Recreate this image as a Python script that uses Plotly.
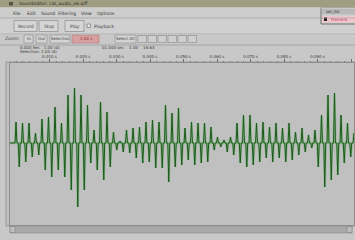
import plotly.graph_objects as go

# ---------------- data ----------------
pulse_period_ms = 1.94          # spacing between successive pulses
pos_peaks = [21, 20, 20, 10, 24, 26, 36, 20, 48, 55, 48, 38, 13, 41, 31, 11, 2,
             13, 15, 16, 21, 23, 21, 38, 30, 35, 15, 21, 20, 20, 16, 6, 3, 6,
             20, 28, 28, 20, 21, 16, 20, 15, 20, 11, 15, 8, 13, 28, 48, 50, 28, 20, 10]
neg_peaks = [24, 19, 14, 12, 27, 34, 27, 34, 47, 64, 47, 20, 27, 37, 24, 7, 9,
             10, 15, 20, 19, 25, 25, 39, 24, 22, 17, 22, 20, 19, 7, 4, 9, 12,
             20, 24, 22, 19, 15, 19, 15, 19, 17, 12, 9, 5, 24, 44, 37, 32, 20, 14]
tick_ms = [10, 20, 30, 40, 50, 60, 70, 80, 90, 100]
tick_labels = ["0.010 s", "0.020 s", "0.030 s", "0.040 s", "0.050 s",
               "0.060 s", "0.070 s", "0.080 s", "0.090 s", "0.100 s"]
menu_items = ["File", "Edit", "Sound", "Filtering", "View", "Options"]
row1_buttons = ["Record", "Stop", "Play"]
row2_buttons = ["In", "Out", "Selection"]

# ---------------- build waveform samples ----------------
hw = 0.28
xs, ys = [-2.0], [0]
for i, a in enumerate(pos_peaks):
    t = i * pulse_period_ms
    xs += [t - hw, t, t + hw]
    ys += [0, a, 0]
    if i < len(neg_peaks):
        tb = t + pulse_period_ms / 2
        xs += [tb - hw, tb, tb + hw]
        ys += [0, -neg_peaks[i], 0]
xs.append(102.0)
ys.append(0)

W, H = 355, 240
k = pulse_period_ms / 6.5     # ms per pixel
x_left_px, x_right_px, x0_px = 10, 354, 16
y_top_px, y_bot_px, yc_px = 63, 225, 143

fig = go.Figure()
fig.add_trace(go.Scatter(x=xs, y=ys, mode="lines",
                         line=dict(color="rgba(100,175,100,0.5)", width=2.4),
                         hoverinfo="skip", showlegend=False))
fig.add_trace(go.Scatter(x=xs, y=ys, mode="lines",
                         line=dict(color="#1d5a1d", width=1.0),
                         hoverinfo="skip", showlegend=False))

shapes, annos = [], []
FONT = "DejaVu Sans"


def px(x):
    return x / W


def py(y):
    return 1 - y / H


def rect(x0, y0, x1, y1, fill, line=None, lw=0.6):
    shapes.append(dict(type="rect", xref="paper", yref="paper",
                       x0=px(x0), x1=px(x1), y0=py(y1), y1=py(y0),
                       fillcolor=fill, line=dict(color=line or fill, width=lw if line else 0),
                       layer="below"))


def hline(x0, x1, y, color, lw=0.8):
    shapes.append(dict(type="line", xref="paper", yref="paper",
                       x0=px(x0), x1=px(x1), y0=py(y), y1=py(y),
                       line=dict(color=color, width=lw)))


def text(x, y, s, size=5, color="#3a3a3a", anchor="left"):
    annos.append(dict(xref="paper", yref="paper", x=px(x), y=py(y), text=s,
                      showarrow=False, xanchor=anchor, yanchor="middle",
                      font=dict(family=FONT, size=size, color=color)))


# title bar
rect(0, 0, 355, 7.5, "#a19d82")
hline(0, 355, 7.8, "#d8d6c8", 0.8)
rect(9, 2, 13, 5.5, "#555548")
text(17, 4, "Soundeditor: cat_audio_x6.aiff", 4.5, "#2e2d24")
# menu bar
rect(0, 8.5, 355, 17.5, "#cdcdcd")
menu_x = [11, 25, 39, 56, 79, 95]
for mx, m in zip(menu_x, menu_items):
    text(mx, 13, m, 4.5, "#333333")
hline(0, 355, 18, "#9e9e9e", 0.6)
# toolbar row 1
rect(0, 18.5, 355, 33.5, "#d0d0d0")
b1 = [(14, 37), (39, 58), (65, 84)]
for (bx0, bx1), lab in zip(b1, row1_buttons):
    rect(bx0, 20.5, bx1, 31.5, "#d6d6d6", "#8a8a8a", 0.7)
    text((bx0 + bx1) / 2, 26, lab, 4.5, "#444444", "center")
rect(87, 24, 90.5, 27.5, "#e4e4e4", "#6a6a6a", 0.6)
text(92, 26, "Playback", 4.5, "#444444")
hline(0, 355, 33.8, "#a8a8a8", 0.5)
# toolbar row 2
text(3, 39, "Zoom:", 4.5, "#444444")
b2 = [(24, 33), (36, 47), (50, 70)]
for (bx0, bx1), lab in zip(b2, row2_buttons):
    rect(bx0, 35, bx1, 43, "#d3d3d3", "#8a8a8a", 0.6)
    text((bx0 + bx1) / 2, 39, lab, 4, "#444444", "center")
rect(72, 35, 99, 43, "#d9a0a0", "#b07878", 0.6)
text(85.5, 39, "1.00 s", 4, "#8a3030", "center")
rect(115, 35, 136, 43, "#d3d3d3", "#8a8a8a", 0.6)
text(125.5, 39, "Select All", 4, "#444444", "center")
for sx in [138, 148, 158, 168, 178, 188]:
    rect(sx, 35.5, sx + 8.5, 42.5, "#cfcfcf", "#8a8a8a", 0.6)
hline(0, 355, 45, "#959595", 0.7)
# info lines
text(18, 47.8, "0.000 Sec   1.00 (d)", 4, "#3c3c3c")
text(100, 47.8, "01.000 sec    1.00    16.63", 4, "#3c3c3c")
text(18, 51.6, "Selection: 1.00 (d)", 4, "#3c3c3c")
# plot frame / scroll bar
rect(6, 62, 355, 226, "#c0c0c0", "#8e8e8e", 0.8)
rect(10, 226, 352, 233, "#a9a9a9", "#8a8a8a", 0.6)
rect(10, 226.5, 15, 232.5, "#bdbdbd", "#7a7a7a", 0.5)
rect(347, 226.5, 352, 232.5, "#bdbdbd", "#7a7a7a", 0.5)
# popup window top right
rect(321, 7.5, 356, 24, "#cfcfcf", "#5a5a5a", 0.8)
rect(322, 8.5, 355, 14.5, "#b9b9b9")
text(324, 11.5, "sel_list", 4, "#333333")
rect(322, 16, 355, 22.5, "#f0c6cc")
rect(324, 17.5, 327, 21, "#222222")
text(329, 19.2, "Fremerk", 4, "#c04060")

fig.update_layout(
    width=W, height=H,
    margin=dict(l=0, r=0, t=0, b=0),
    paper_bgcolor="#c8c8c8",
    plot_bgcolor="#b3b3b3",
    shapes=shapes, annotations=annos,
    showlegend=False,
    xaxis=dict(domain=[px(x_left_px), px(x_right_px)],
               range=[(x_left_px - x0_px) * k, (x_right_px - x0_px) * k],
               side="top", showgrid=False, zeroline=False,
               tickvals=tick_ms, ticktext=tick_labels,
               tickfont=dict(family=FONT, size=4, color="#3a3a3a"),
               ticks="outside", ticklen=3, tickcolor="#6a6a6a", tickwidth=0.6,
               minor=dict(ticks="outside", ticklen=1.5, dtick=2, tickcolor="#7a7a7a", tickwidth=0.5),
               showline=True, linecolor="#8e8e8e", linewidth=0.8, mirror=True,
               fixedrange=True),
    yaxis=dict(domain=[py(y_bot_px), py(y_top_px)],
               range=[-(y_bot_px - yc_px), yc_px - y_top_px],
               showgrid=False, zeroline=False, showticklabels=False, ticks="",
               showline=True, linecolor="#8e8e8e", linewidth=0.8, mirror=True,
               fixedrange=True),
)

fig.write_html("out.html", config={"displayModeBar": False},
               post_script="document.body.style.margin='0px';document.body.style.background='#c8c8c8';")
